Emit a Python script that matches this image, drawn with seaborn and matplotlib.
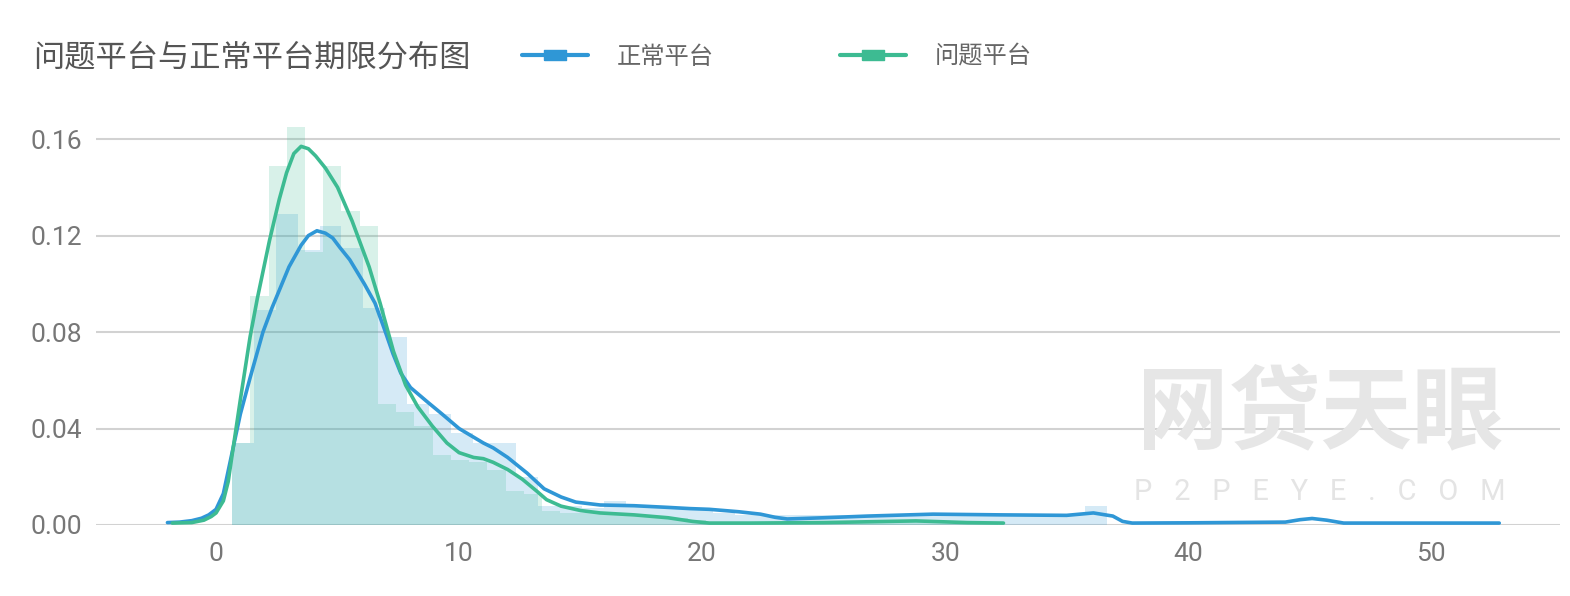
import matplotlib
matplotlib.use("Agg")
import matplotlib.pyplot as plt
import seaborn as sns
import pandas as pd
from matplotlib.lines import Line2D

# ---- data ----
# KDE curves (x = 期限, y = density)
normal_kde_x = [-2.0, -1.5, -1.0, -0.6, -0.3, 0.0, 0.3, 0.66, 1.0, 1.4, 1.93, 2.3, 2.63, 3.0,
                3.5, 3.8, 4.15, 4.5, 4.8, 5.1, 5.5, 6.1, 6.54, 6.9, 7.28, 7.6, 8.0, 8.7, 9.3,
                10.0, 10.5, 11.0, 11.4, 12.0, 12.8, 13.5, 14.2, 14.8, 15.8, 17.2, 18.6, 19.5,
                20.3, 21.5, 22.4, 23.0, 23.5, 25.0, 26.8, 29.5, 32.3, 35.0, 36.1, 36.9, 37.3,
                37.7, 40.0, 44.0, 44.6, 45.1, 45.7, 46.4, 50.0, 52.8]
normal_kde_y = [0.0010, 0.0012, 0.0018, 0.0028, 0.0042, 0.0065, 0.013, 0.030, 0.046, 0.061,
                0.080, 0.090, 0.098, 0.107, 0.116, 0.120, 0.122, 0.121, 0.119, 0.115, 0.110,
                0.100, 0.092, 0.082, 0.071, 0.063, 0.057, 0.051, 0.046, 0.040, 0.037, 0.034,
                0.032, 0.028, 0.0215, 0.015, 0.0116, 0.0095, 0.0083, 0.0080, 0.0073, 0.0068,
                0.0065, 0.0055, 0.0045, 0.0032, 0.0025, 0.0030, 0.0037, 0.0045, 0.0042,
                0.0040, 0.0050, 0.0037, 0.0015, 0.0008, 0.0009, 0.0012, 0.0022, 0.0027,
                0.0020, 0.0008, 0.0008, 0.0008]

problem_kde_x = [-1.8, -1.0, -0.5, -0.2, 0.0, 0.3, 0.5, 0.66, 1.0, 1.4, 1.7, 2.2, 2.6, 2.9,
                 3.2, 3.5, 3.8, 4.1, 4.5, 5.0, 5.6, 6.3, 6.75, 7.3, 7.8, 8.3, 8.9, 9.5, 10.0,
                 10.6, 11.0, 11.4, 12.0, 12.6, 13.2, 13.6, 14.2, 15.0, 15.8, 17.2, 18.6, 19.6,
                 20.3, 22.0, 25.0, 28.8, 30.9, 32.4]
problem_kde_y = [0.0008, 0.0010, 0.0020, 0.0035, 0.0050, 0.010, 0.018, 0.029, 0.052, 0.078,
                 0.094, 0.118, 0.135, 0.146, 0.154, 0.157, 0.156, 0.153, 0.148, 0.140, 0.126,
                 0.107, 0.092, 0.072, 0.058, 0.049, 0.041, 0.034, 0.030, 0.028, 0.0275, 0.026,
                 0.023, 0.019, 0.014, 0.0105, 0.0078, 0.0060, 0.0050, 0.0042, 0.0030, 0.0015,
                 0.0008, 0.0008, 0.0010, 0.0017, 0.0010, 0.0008]

# histogram bins
normal_bin_start, normal_bin_width = 0.66, 0.9
normal_hist = [0.034, 0.089, 0.129, 0.114, 0.124, 0.115, 0.090, 0.078, 0.050, 0.046,
               0.038, 0.034, 0.034, 0.020, 0.008, 0.008, 0.007, 0.010, 0.008, 0.008,
               0.007, 0.007, 0.005, 0.004, 0.004, 0.004, 0.004, 0.004, 0.004, 0.004,
               0.004, 0.004, 0.004, 0.004, 0.004, 0.004, 0.004, 0.004, 0.004, 0.008]
problem_bin_start, problem_bin_width = 0.66, 0.75
problem_hist = [0.034, 0.095, 0.149, 0.165, 0.113, 0.149, 0.130, 0.124, 0.050, 0.047,
                0.041, 0.029, 0.027, 0.026, 0.023, 0.014, 0.013, 0.006, 0.005, 0.005,
                0.005, 0.004, 0.004, 0.003, 0.003, 0.002, 0.001, 0.001, 0.001, 0.001,
                0.001, 0.001, 0.001, 0.001, 0.001, 0.002, 0.002, 0.002, 0.001, 0.001,
                0.001, 0.001]

y_ticks = [0.00, 0.04, 0.08, 0.12, 0.16]
x_ticks = [0, 10, 20, 30, 40, 50]

title = "问题平台与正常平台期限分布图"
labels = ["正常平台", "问题平台"]
blue = "#2f97d6"
green = "#3dbb92"

sns.set_theme(style="white")
plt.rcParams['font.family'] = ['Noto Sans CJK SC', 'DejaVu Sans']

fig = plt.figure(figsize=(15.7, 5.96), dpi=100)
ax = fig.add_axes([96 / 1570, 1 - 525 / 596, (1560 - 96) / 1570, (525 - 115) / 596])

# histograms (bars drawn through histplot with weights)
for start, width, heights, col in [(normal_bin_start, normal_bin_width, normal_hist, blue),
                                    (problem_bin_start, problem_bin_width, problem_hist, green)]:
    edges = [start + width * i for i in range(len(heights) + 1)]
    df = pd.DataFrame({"x": [(edges[i] + edges[i + 1]) / 2 for i in range(len(heights))],
                       "w": heights})
    sns.histplot(data=df, x="x", weights="w", bins=edges, stat="count",
                 color=col, alpha=0.2, linewidth=0, ax=ax)

sns.lineplot(x=normal_kde_x, y=normal_kde_y, color=blue, linewidth=2.6, ax=ax)
sns.lineplot(x=problem_kde_x, y=problem_kde_y, color=green, linewidth=2.6, ax=ax)

ax.set_xlim(-4.94, 55.3)
ax.set_ylim(0, 0.17)
ax.set_yticks(y_ticks)
ax.set_yticklabels([f"{v:.2f}" for v in y_ticks])
ax.set_xticks(x_ticks)
ax.set_xticklabels([str(v) for v in x_ticks])
ax.set_xlabel("")
ax.set_ylabel("")
ax.grid(axis="y", color="#d2d2d2", linewidth=1.5)
ax.grid(axis="x", visible=False)
for s in ax.spines.values():
    s.set_visible(False)
ax.tick_params(axis="both", length=0, labelsize=19, labelcolor="#777777")
ax.tick_params(axis="y", pad=10)
ax.tick_params(axis="x", pad=12)
for t in ax.get_xticklabels() + ax.get_yticklabels():
    t.set_fontfamily("Roboto")

# watermark
fig.text(1320 / 1570, 1 - 415 / 596, "网贷天眼", fontsize=66, fontweight="bold",
         color="#e6e6e6", ha="center", va="center", zorder=0)
fig.text(1320 / 1570, 1 - 492 / 596, "P   2   P   E   Y   E   .   C   O   M", fontsize=21,
         color="#e4e4e4", ha="center", va="center", family="Roboto", zorder=0)

# title & legend
fig.text(33 / 1570, 1 - 57 / 596, title, fontsize=22.5, color="#555555",
         ha="left", va="center")
rect = [(-2.2, -1), (2.2, -1), (2.2, 1), (-2.2, 1), (-2.2, -1)]
handles = [Line2D([0], [0], color=c, lw=3, marker=rect, markersize=16,
                  markerfacecolor=c, markeredgecolor=c) for c in [blue, green]]
fig.legend(handles, labels, loc="center left", bbox_to_anchor=(500 / 1570, 1 - 57 / 596),
           ncol=2, frameon=False, fontsize=17.5, handlelength=2.7, handletextpad=1.2,
           columnspacing=5.2, labelcolor="#666666")

fig.savefig("out.png", dpi=100)
